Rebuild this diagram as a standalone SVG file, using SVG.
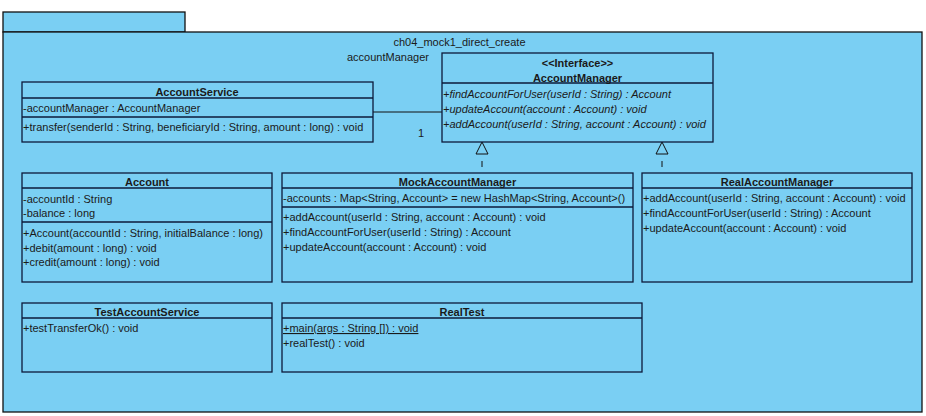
<svg xmlns="http://www.w3.org/2000/svg" width="926" height="416" viewBox="0 0 926 416">
<style>
text{font-family:"Liberation Sans",Arial,sans-serif;font-size:11px;fill:#1a1a1a}
.t{font-weight:bold;text-anchor:middle}
.i{font-style:italic}
.box{fill:#7acff3;stroke:#0d1a3a;stroke-width:1.3}
.div{stroke:#0d1a3a;stroke-width:1.3}
.pkg{fill:#7acff3;stroke:#111;stroke-width:1.3}
.edge{stroke:#111;stroke-width:1;fill:none}
.tri{fill:#7acff3;stroke:#111;stroke-width:1}
</style>
<g id="package">
<rect class="pkg" x="3" y="12" width="182" height="20"/>
<rect class="pkg" x="3" y="32" width="919" height="380"/>
<text x="459.5" y="46" style="text-anchor:middle">ch04_mock1_direct_create</text>
</g>
<g id="connectors">
<line class="edge" x1="373" y1="112" x2="442" y2="112"/>
<text x="347" y="61">accountManager</text>
<text x="421" y="137" style="text-anchor:middle">1</text>
<line class="edge" x1="482" y1="154" x2="482" y2="173" stroke-dasharray="6,7" stroke-dashoffset="6"/>
<polygon class="tri" points="482,142 476,154 488,154"/>
<line class="edge" x1="662" y1="154" x2="662" y2="173" stroke-dasharray="6,7" stroke-dashoffset="6"/>
<polygon class="tri" points="662,142 656,154 668,154"/>
</g>
<g id="AccountService">
<rect class="box" x="22" y="82" width="351" height="60"/>
<line class="div" x1="22" y1="98" x2="373" y2="98"/>
<line class="div" x1="22" y1="117" x2="373" y2="117"/>
<text class="t" x="197" y="95.5">AccountService</text>
<text x="23" y="112">-accountManager : AccountManager</text>
<text x="23" y="131">+transfer(senderId : String, beneficiaryId : String, amount : long) : void</text>
</g>
<g id="AccountManager">
<rect class="box" x="442" y="53" width="271" height="89"/>
<line class="div" x1="442" y1="83" x2="713" y2="83"/>
<text class="t" x="577.5" y="66.5">&lt;&lt;Interface&gt;&gt;</text>
<text class="t" x="577.5" y="81.5">AccountManager</text>
<text class="i" x="443" y="98">+findAccountForUser(userId : String) : Account</text>
<text class="i" x="443" y="113">+updateAccount(account : Account) : void</text>
<text class="i" x="443" y="128">+addAccount(userId : String, account : Account) : void</text>
</g>
<g id="Account">
<rect class="box" x="22" y="173" width="250" height="109"/>
<line class="div" x1="22" y1="188" x2="272" y2="188"/>
<line class="div" x1="22" y1="222" x2="272" y2="222"/>
<text class="t" x="147" y="185.5">Account</text>
<text x="23" y="202.5">-accountId : String</text>
<text x="23" y="216.5">-balance : long</text>
<text x="23" y="236.5">+Account(accountId : String, initialBalance : long)</text>
<text x="23" y="251.5">+debit(amount : long) : void</text>
<text x="23" y="266">+credit(amount : long) : void</text>
</g>
<g id="MockAccountManager">
<rect class="box" x="282" y="173" width="351" height="109"/>
<line class="div" x1="282" y1="188" x2="633" y2="188"/>
<line class="div" x1="282" y1="207" x2="633" y2="207"/>
<text class="t" x="457.5" y="185.5">MockAccountManager</text>
<text x="283" y="202">-accounts : Map&lt;String, Account&gt; = new HashMap&lt;String, Account&gt;()</text>
<text x="283" y="221">+addAccount(userId : String, account : Account) : void</text>
<text x="283" y="236">+findAccountForUser(userId : String) : Account</text>
<text x="283" y="251">+updateAccount(account : Account) : void</text>
</g>
<g id="RealAccountManager">
<rect class="box" x="642" y="173" width="270" height="109"/>
<line class="div" x1="642" y1="188" x2="912" y2="188"/>
<text class="t" x="777" y="185.5">RealAccountManager</text>
<text x="643" y="202">+addAccount(userId : String, account : Account) : void</text>
<text x="643" y="217">+findAccountForUser(userId : String) : Account</text>
<text x="643" y="232">+updateAccount(account : Account) : void</text>
</g>
<g id="TestAccountService">
<rect class="box" x="22" y="303" width="250" height="69"/>
<line class="div" x1="22" y1="318" x2="272" y2="318"/>
<text class="t" x="147" y="315.5">TestAccountService</text>
<text x="23" y="332">+testTransferOk() : void</text>
</g>
<g id="RealTest">
<rect class="box" x="282" y="303" width="360" height="69"/>
<line class="div" x1="282" y1="318" x2="642" y2="318"/>
<text class="t" x="462" y="315.5">RealTest</text>
<text x="283" y="332" text-decoration="underline">+main(args : String []) : void</text>
<text x="283" y="347">+realTest() : void</text>
</g>
</svg>
